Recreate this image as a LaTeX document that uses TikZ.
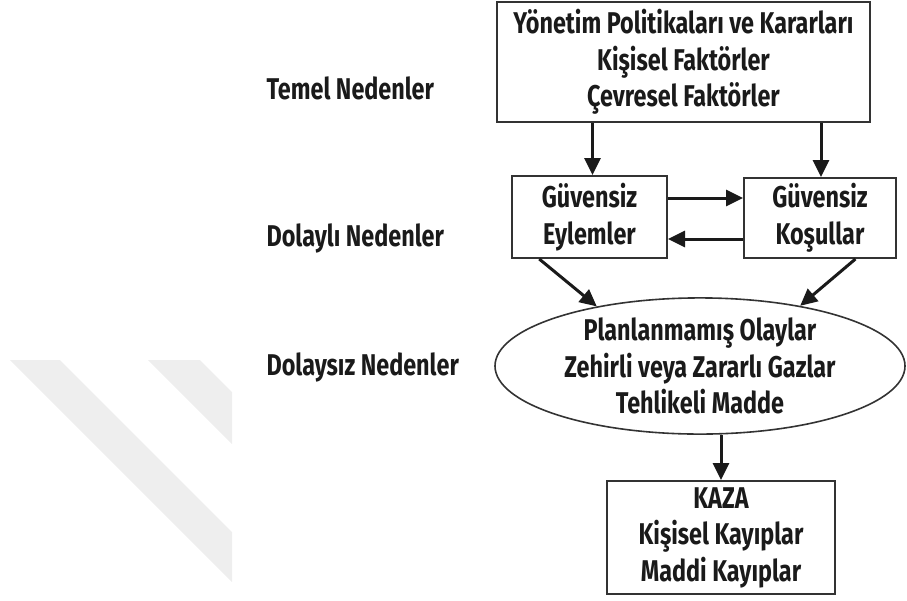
\documentclass[tikz,border=0pt]{standalone}
\usepackage{fontspec}
\setmainfont{Fira Sans}[FakeStretch=0.78]
\usetikzlibrary{arrows.meta,shapes.geometric,calc}
\definecolor{ink}{HTML}{1A1A1A}
\definecolor{edge}{HTML}{333333}
\definecolor{wm}{HTML}{EEEEEE}
\tikzset{
  txt/.style={text=ink,font=\bfseries\fontsize{30}{36.5}\selectfont,align=center},
  boxnode/.style={txt,draw=edge,line width=2pt,inner sep=0pt},
  ellnode/.style={txt,draw=edge,line width=1.6pt,ellipse,inner sep=0pt},
  lbl/.style={text=ink,font=\bfseries\fontsize{30}{36}\selectfont,anchor=west},
  arr/.style={draw=ink,line width=3pt,-{Triangle[length=17pt,width=16pt]}},
  stripe/.style={fill=wm,draw=none}
}
\begin{document}
\begin{tikzpicture}[x=1pt,y=-1pt]
\useasboundingbox (0,0) rectangle (907,600);
% watermark stripes
\fill[stripe] (10,360) -- (60,360) -- (232,532) -- (232,582) -- cycle;
\fill[stripe] (148,360) -- (200,360) -- (232,392) -- (232,444) -- cycle;
% nodes
\node[boxnode,minimum width=373pt,minimum height=120pt] (top) at (683.5,62)
  {Yönetim Politikaları ve Kararları\\Kişisel Faktörler\\Çevresel Faktörler};
\node[boxnode,minimum width=155pt,minimum height=82pt] (ey) at (589.5,217)
  {Güvensiz\\Eylemler};
\node[boxnode,minimum width=152pt,minimum height=80pt] (ko) at (820,218)
  {Güvensiz\\Koşullar};
\node[ellnode,minimum width=410pt,minimum height=132pt] (ell) at (700,366)
  {Planlanmamış Olaylar\\Zehirli veya Zararlı Gazlar\\Tehlikeli Madde};
\node[boxnode,minimum width=228pt,minimum height=113pt] (kaza) at (721,537.5)
  {KAZA\\Kişisel Kayıplar\\Maddi Kayıplar};
% labels
\node[lbl] (l1) at (263,88) {Temel Nedenler};
\node[lbl] (l2) at (263,238) {Dolaylı Nedenler};
\node[lbl] (l3) at (263,367) {Dolaysız Nedenler};
% connectors
\draw[arr] ([xshift=3pt]ey.north |- top.south) -- ([xshift=3pt]ey.north);
\draw[arr] ([xshift=1pt]ko.north |- top.south) -- ([xshift=1pt]ko.north);
\draw[arr] ([yshift=19pt]ey.east) -- ([yshift=19pt]ey.east -| ko.west);
\draw[arr] ([yshift=-22pt]ey.east -| ko.west) -- ([yshift=-22pt]ey.east);
\draw[arr] ($(ey.south west)!0.18!(ey.south east)$) -- (ell.150);
\draw[arr] ($(ko.south west)!0.73!(ko.south east)$) -- (ell.31);
\draw[arr] (kaza.north |- ell.south) -- (kaza.north);
\end{tikzpicture}
\end{document}
